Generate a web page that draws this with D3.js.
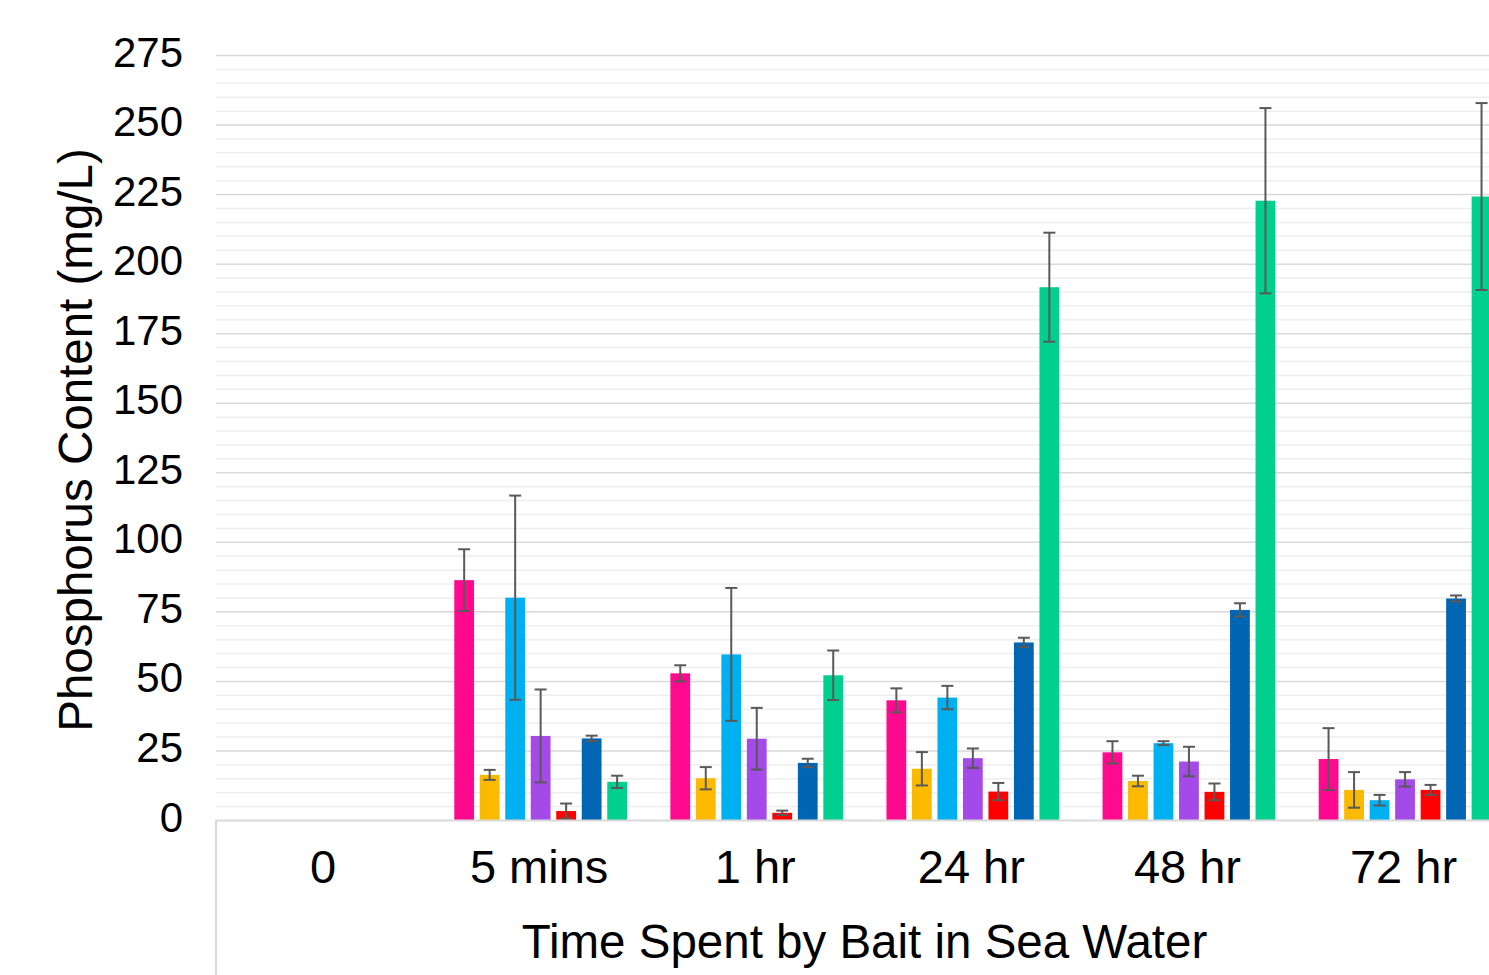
<!DOCTYPE html>
<html>
<head>
<meta charset="utf-8">
<script src="https://cdn.jsdelivr.net/npm/d3@7"></script>
<style>
  html, body { margin: 0; padding: 0; background: #fff; overflow: hidden; }
  svg { display: block; font-family: "Liberation Sans", Arial, Helvetica, sans-serif; }
</style>
</head>
<body>
<svg id="chart" width="1489" height="975"></svg>
<script>
const categories = ["0", "5 mins", "1 hr", "24 hr", "48 hr", "72 hr"];
const seriesNames = ["Series 1", "Series 2", "Series 3", "Series 4", "Series 5", "Series 6", "Series 7"];
const seriesColors = ["#FF0A8F", "#FBBA00", "#00B0F0", "#A34AE8", "#FF0000", "#0065B2", "#00CF8E"];

const s1 = [null, 86.4, 52.9, 43.2, 24.5, 22.1];
const s2 = [null, 16.4, 15.2, 18.6, 14.2, 11.0];
const s3 = [null, 80.1, 59.7, 44.2, 27.8, 7.3];
const s4 = [null, 30.4, 29.4, 22.4, 21.2, 14.8];
const s5 = [null, 3.4, 2.75, 10.4, 10.3, 11.0];
const s6 = [null, 29.5, 20.7, 64.0, 75.7, 79.8];
const s7 = [null, 13.9, 52.2, 191.7, 222.8, 224.3];

const e1 = [null, 11.1, 2.9, 4.3, 4.0, 11.1];
const e2 = [null, 1.8, 4.0, 6.0, 1.9, 6.4];
const e3 = [null, 36.7, 23.9, 4.2, 0.7, 1.9];
const e4 = [null, 16.7, 11.1, 3.5, 5.3, 2.6];
const e5 = [null, 2.7, 0.8, 3.1, 3.0, 1.8];
const e6 = [null, 1.0, 1.5, 1.7, 2.4, 1.1];
const e7 = [null, 2.2, 8.9, 19.6, 33.3, 33.6];

const yTicks = [0, 25, 50, 75, 100, 125, 150, 175, 200, 225, 250, 275];
const yMinorTicks = d3.range(0, 276, 5);

const xTitle = "Time Spent by Bait in Sea Water";
const yTitle = "Phosphorus Content (mg/L)";

const values = [s1, s2, s3, s4, s5, s6, s7];
const errors = [e1, e2, e3, e4, e5, e6, e7];

const svg = d3.select("#chart");
const plotLeft = 215, catStep = 216.1;
const y0 = 820.5, yTop = 55.5;

const x0 = d3.scaleBand().domain(categories).range([plotLeft, plotLeft + catStep * categories.length]).paddingInner(0).paddingOuter(0);
const x1 = d3.scaleBand().domain(seriesNames).range([1.5, x0.bandwidth() + 1.5]).paddingInner(0.224).paddingOuter(0.85);
const y = d3.scaleLinear().domain([0, 275]).range([y0, yTop]);

const plotRight = 1489;

// minor gridlines
svg.append("g").selectAll("line").data(yMinorTicks.filter(v => v % 25 !== 0)).join("line")
  .attr("x1", plotLeft + 1).attr("x2", plotRight)
  .attr("y1", d => y(d)).attr("y2", d => y(d))
  .attr("stroke", "#eeeeee").attr("stroke-width", 1.5);

// major gridlines
svg.append("g").selectAll("line").data(yTicks.filter(v => v > 0)).join("line")
  .attr("x1", plotLeft + 1).attr("x2", plotRight)
  .attr("y1", d => y(d)).attr("y2", d => y(d))
  .attr("stroke", "#d9d9d9").attr("stroke-width", 1.5);

// y tick labels
svg.append("g").selectAll("text").data(yTicks).join("text")
  .attr("x", 183).attr("y", d => y(d) + 11)
  .attr("text-anchor", "end")
  .attr("font-size", 42).attr("fill", "#000")
  .text(d => d);

// bars
const groups = svg.append("g").selectAll("g").data(categories).join("g")
  .attr("transform", c => `translate(${x0(c)},0)`);

const barData = (c, ci) => seriesNames.map((s, si) => ({ s, si, v: values[si][ci], e: errors[si][ci] })).filter(d => d.v !== null);

groups.each(function (c, ci) {
  const g = d3.select(this);
  const data = barData(c, ci);
  g.selectAll("rect").data(data).join("rect")
    .attr("x", d => x1(d.s)).attr("width", x1.bandwidth())
    .attr("y", d => y(d.v)).attr("height", d => y(0) - y(d.v))
    .attr("fill", d => seriesColors[d.si]);
  const eb = g.selectAll("g.err").data(data).join("g").attr("class", "err");
  const cx = d => x1(d.s) + x1.bandwidth() / 2;
  eb.append("line")
    .attr("x1", cx).attr("x2", cx)
    .attr("y1", d => y(d.v + d.e)).attr("y2", d => y(Math.max(0, d.v - d.e)))
    .attr("stroke", "#595959").attr("stroke-width", 2);
  eb.append("line")
    .attr("x1", d => cx(d) - 6).attr("x2", d => cx(d) + 6)
    .attr("y1", d => y(d.v + d.e)).attr("y2", d => y(d.v + d.e))
    .attr("stroke", "#595959").attr("stroke-width", 2);
  eb.append("line")
    .attr("x1", d => cx(d) - 6).attr("x2", d => cx(d) + 6)
    .attr("y1", d => y(Math.max(0, d.v - d.e))).attr("y2", d => y(Math.max(0, d.v - d.e)))
    .attr("stroke", "#595959").attr("stroke-width", 2);
});

// x axis line and left box line
svg.append("line").attr("x1", plotLeft).attr("x2", plotRight).attr("y1", y(0)).attr("y2", y(0))
  .attr("stroke", "#d9d9d9").attr("stroke-width", 2);
svg.append("line").attr("x1", plotLeft + 1).attr("x2", plotLeft + 1).attr("y1", y(0)).attr("y2", 975)
  .attr("stroke", "#d9d9d9").attr("stroke-width", 2);

// x category labels
svg.append("g").selectAll("text").data(categories).join("text")
  .attr("x", c => x0(c) + x0.bandwidth() / 2).attr("y", 883)
  .attr("text-anchor", "middle").attr("font-size", 47).attr("fill", "#000")
  .text(c => c);

// axis titles
svg.append("text").attr("x", 864.5).attr("y", 958)
  .attr("text-anchor", "middle").attr("font-size", 47.5).attr("fill", "#000")
  .text(xTitle);

svg.append("text").attr("transform", "translate(92,440) rotate(-90)")
  .attr("text-anchor", "middle").attr("font-size", 47.5).attr("fill", "#000")
  .text(yTitle);
</script>
</body>
</html>
